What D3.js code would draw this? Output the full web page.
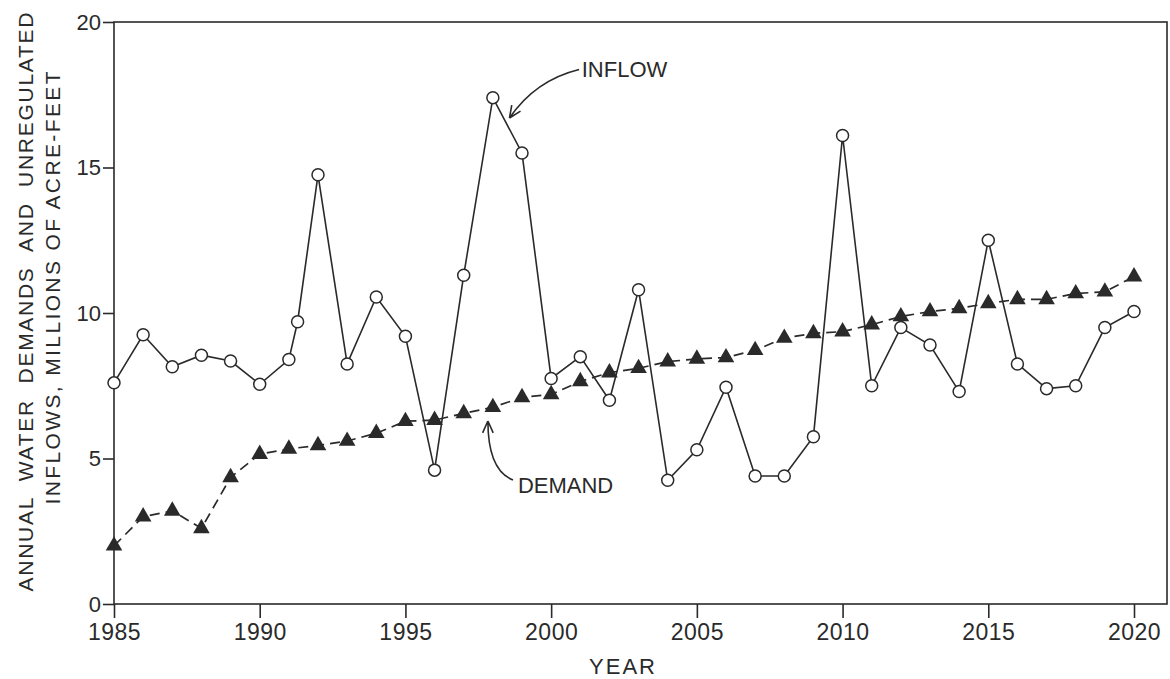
<!DOCTYPE html>
<html>
<head>
<meta charset="utf-8">
<script src="https://cdn.jsdelivr.net/npm/d3@7"></script>
<style>
  html, body { margin: 0; padding: 0; background: #fff; }
  svg { display: block; font-family: "Liberation Sans", Arial, sans-serif; }
</style>
</head>
<body>
<div id="chart"></div>
<script>
// data (millions of acre-feet)
const inflowYears = [1985, 1986, 1987, 1988, 1989, 1990, 1991, 1991.3, 1992, 1993, 1994, 1995, 1996, 1997, 1998, 1999,
  2000, 2001, 2002, 2003, 2004, 2005, 2006, 2007, 2008, 2009, 2010, 2011, 2012, 2013, 2014, 2015, 2016, 2017, 2018, 2019, 2020];
const inflowValues = [7.6, 9.25, 8.15, 8.55, 8.35, 7.55, 8.4, 9.7, 14.75, 8.25, 10.55, 9.2, 4.6, 11.3, 17.4, 15.5,
  7.75, 8.5, 7.0, 10.8, 4.25, 5.3, 7.45, 4.4, 4.4, 5.75, 16.1, 7.5, 9.5, 8.9, 7.3, 12.5, 8.25, 7.4, 7.5, 9.5, 10.05];

const demandYears = d3.range(1985, 2021);
const demandValues = [2.0, 3.0, 3.2, 2.6, 4.35, 5.15, 5.33, 5.45, 5.6, 5.87, 6.28, 6.32, 6.55, 6.76, 7.1, 7.2,
  7.65, 7.95, 8.1, 8.33, 8.42, 8.47, 8.72, 9.14, 9.3, 9.36, 9.6, 9.88, 10.05, 10.16, 10.33, 10.47, 10.47, 10.67, 10.73, 11.25];

const xTicks = [1985, 1990, 1995, 2000, 2005, 2010, 2015, 2020];
const yTicks = [0, 5, 10, 15, 20];

// annotation anchors in data units
const inflowNote = { text: "INFLOW", label: [2001.05, 18.1], from: [2000.96, 18.37], ctrl: [1999.45, 18.0], to: [1998.57, 16.7] };
const demandNote = { text: "DEMAND", label: [1998.86, 3.81], from: [1998.69, 4.26], ctrl: [1997.83, 4.6], to: [1997.83, 6.29] };

const width = 1170, height = 679;
const ink = "#2a2a2a";

const x = d3.scaleLinear().domain([1985, 2020]).range([114, 1134]);
const y = d3.scaleLinear().domain([0, 20]).range([604, 22]);
const xRight = 1167;

const svg = d3.select("#chart").append("svg")
  .attr("width", width)
  .attr("height", height);

// frame
svg.append("rect")
  .attr("x", x(1985)).attr("y", y(20))
  .attr("width", xRight - x(1985)).attr("height", y(0) - y(20))
  .attr("fill", "none").attr("stroke", ink).attr("stroke-width", 1.6);

// axes
const xAxis = svg.append("g")
  .attr("transform", `translate(0,${y(0)})`)
  .call(d3.axisBottom(x).tickValues(xTicks).tickFormat(d3.format("d")).tickSize(14).tickSizeOuter(0).tickPadding(6));
const yAxis = svg.append("g")
  .attr("transform", `translate(${x(1985)},0)`)
  .call(d3.axisLeft(y).tickValues(yTicks).tickSize(11).tickSizeOuter(0).tickPadding(2));

[xAxis, yAxis].forEach(g => {
  g.select(".domain").remove();
  g.selectAll("line").attr("stroke", ink).attr("stroke-width", 1.6);
  g.selectAll("text").attr("fill", ink).attr("font-family", "Liberation Sans, Arial, sans-serif");
});
xAxis.selectAll("text").attr("font-size", 23).attr("letter-spacing", 0.5);
yAxis.selectAll("text").attr("font-size", 22);

// axis titles
svg.append("text")
  .attr("x", 623).attr("y", 674)
  .attr("text-anchor", "middle")
  .attr("font-size", 22).attr("letter-spacing", 2)
  .attr("fill", ink)
  .text("YEAR");

const yTitle = [
  { text: "ANNUAL WATER DEMANDS AND UNREGULATED", cx: 33, cy: 302, len: 579 },
  { text: "INFLOWS, MILLIONS OF ACRE-FEET", cx: 59.5, cy: 288, len: 433 }
];
svg.selectAll(".ytitle")
  .data(yTitle)
  .join("text")
    .attr("class", "ytitle")
    .attr("transform", d => `translate(${d.cx},${d.cy}) rotate(-90)`)
    .attr("text-anchor", "middle")
    .attr("font-size", 21)
    .attr("word-spacing", (d, i) => i === 0 ? 8 : 0)
    .attr("textLength", d => d.len)
    .attr("lengthAdjust", "spacing")
    .attr("fill", ink)
    .text(d => d.text);

// demand: dashed line with filled triangles
const demand = demandYears.map((yr, i) => [yr, demandValues[i]]);
const inflow = inflowYears.map((yr, i) => [yr, inflowValues[i]]);
const line = d3.line().x(d => x(d[0])).y(d => y(d[1]));

svg.append("path")
  .datum(demand)
  .attr("d", line)
  .attr("fill", "none")
  .attr("stroke", ink)
  .attr("stroke-width", 1.7)
  .attr("stroke-dasharray", "10,6");

svg.append("g")
  .selectAll("path")
  .data(demand)
  .join("path")
    .attr("transform", d => `translate(${x(d[0])},${y(d[1])})`)
    .attr("d", d3.symbol(d3.symbolTriangle, 120))
    .attr("fill", ink);

// inflow: solid line with open circles
svg.append("path")
  .datum(inflow)
  .attr("d", line)
  .attr("fill", "none")
  .attr("stroke", ink)
  .attr("stroke-width", 1.6);

svg.append("g")
  .selectAll("circle")
  .data(inflow)
  .join("circle")
    .attr("cx", d => x(d[0]))
    .attr("cy", d => y(d[1]))
    .attr("r", 6)
    .attr("fill", "#fff")
    .attr("stroke", ink)
    .attr("stroke-width", 1.5);

// annotations with curved arrows
function drawNote(n) {
  const p0 = [x(n.from[0]), y(n.from[1])];
  const c = [x(n.ctrl[0]), y(n.ctrl[1])];
  const p1 = [x(n.to[0]), y(n.to[1])];
  const p = d3.path();
  p.moveTo(...p0);
  p.quadraticCurveTo(...c, ...p1);
  // arrowhead along the tangent at the tip
  const ang = Math.atan2(p1[1] - c[1], p1[0] - c[0]);
  const len = 13, spread = 0.42;
  [ang + Math.PI - spread, ang + Math.PI + spread].forEach(a => {
    p.moveTo(...p1);
    p.lineTo(p1[0] + len * Math.cos(a), p1[1] + len * Math.sin(a));
  });
  svg.append("path")
    .attr("d", p.toString())
    .attr("fill", "none")
    .attr("stroke", ink)
    .attr("stroke-width", 1.6);
  svg.append("text")
    .attr("x", x(n.label[0])).attr("y", y(n.label[1]))
    .attr("font-size", 22)
    .attr("fill", ink)
    .text(n.text);
}
drawNote(inflowNote);
drawNote(demandNote);
</script>
</body>
</html>
